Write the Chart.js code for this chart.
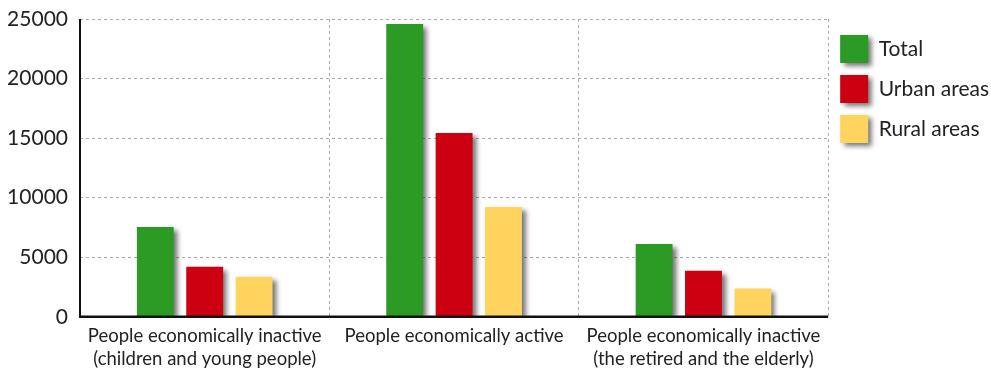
<!DOCTYPE html>
<html>
<head>
<meta charset="utf-8">
<script src="https://cdn.jsdelivr.net/npm/chart.js@4/dist/chart.umd.min.js"></script>
<style>
html,body{margin:0;padding:0;background:#fff;}
#wrap{width:991px;height:370px;position:relative;}
</style>
</head>
<body>
<div id="wrap"><canvas id="c" width="991" height="370"></canvas></div>
<script>
const categories = [
  ["People economically inactive", "(children and young people)"],
  ["People economically active"],
  ["People economically inactive", "(the retired and the elderly)"]
];
const seriesNames = ["Total", "Urban areas", "Rural areas"];
const totalValues = [7550, 24580, 6120];
const urbanValues = [4200, 15430, 3860];
const ruralValues = [3360, 9230, 2380];
const yTicks = [0, 5000, 10000, 15000, 20000, 25000];

const colors = ["#2c9b26", "#cd0012", "#ffd45e"];
const FONT = "Lato, 'Open Sans', sans-serif";

function setShadow(ctx) {
  ctx.shadowColor = 'rgba(0,0,0,0.55)';
  ctx.shadowBlur = 5;
  ctx.shadowOffsetX = 4;
  ctx.shadowOffsetY = 3;
}

const shadowPlugin = {
  id: 'shadows',
  beforeLayout(chart) {
    const lg = chart.legend;
    if (lg && !lg._fitPatched) {
      lg._fitPatched = true;
      const origFit = lg.fit.bind(lg);
      lg.fit = function () {
        origFit();
        this.width = Math.max(0, this.width - 8);
      };
    }
  },
  beforeDatasetsDraw(chart) {
    chart.ctx.save();
    setShadow(chart.ctx);
  },
  afterDatasetsDraw(chart) {
    chart.ctx.restore();
    const ctx = chart.ctx, a = chart.chartArea;
    ctx.save();
    ctx.strokeStyle = '#111';
    ctx.setLineDash([]);
    ctx.lineWidth = 2;
    ctx.beginPath();
    ctx.moveTo(a.left, a.top);
    ctx.lineTo(a.left, a.bottom);
    ctx.stroke();
    ctx.lineWidth = 2.5;
    ctx.beginPath();
    ctx.moveTo(a.left - 1, a.bottom);
    ctx.lineTo(a.right, a.bottom);
    ctx.stroke();
    ctx.restore();
  },
  afterLayout(chart) {
    const lg = chart.legend;
    if (lg && !lg._shadowPatched) {
      lg._shadowPatched = true;
      const orig = lg.draw.bind(lg);
      lg.draw = function () {
        const ctx = chart.ctx;
        const origFill = ctx.fill;
        ctx.save();
        ctx.translate(0, 4);
        ctx.fill = function (...a) {
          ctx.save();
          setShadow(ctx);
          origFill.apply(ctx, a);
          ctx.restore();
        };
        try { orig(); } finally { ctx.fill = origFill; ctx.restore(); }
      };
    }
  }
};

const seriesValues = [totalValues, urbanValues, ruralValues];

new Chart(document.getElementById('c'), {
  type: 'bar',
  data: {
    labels: categories,
    datasets: seriesNames.map((n, i) => ({
      label: n,
      data: seriesValues[i],
      backgroundColor: colors[i],
      borderWidth: 0,
      categoryPercentage: 0.594,
      barPercentage: 0.747
    }))
  },
  options: {
    responsive: false,
    animation: false,
    devicePixelRatio: 1,
    layout: { padding: { left: 8, right: 0, top: 19, bottom: -8 } },
    plugins: {
      tooltip: { enabled: false },
      legend: {
        position: 'right',
        align: 'start',
        fullSize: false,
        labels: {
          boxWidth: 28,
          boxHeight: 28,
          padding: 12,
          color: '#222',
          font: { family: FONT, size: 21 }
        }
      }
    },
    scales: {
      x: {
        grid: {
          display: true,
          offset: true,
          drawTicks: false,
          color: '#aaa',
          lineWidth: 1
        },
        border: { display: false, dash: [3, 3] },
        ticks: {
          color: '#222',
          padding: 8,
          maxRotation: 0,
          autoSkip: false,
          font: { family: FONT, size: 18.5, lineHeight: 1.22 }
        },
        afterFit(scale) { scale.paddingLeft = 0; scale.paddingRight = 0; }
      },
      y: {
        min: 0,
        max: 25000,
        afterBuildTicks(scale) { scale.ticks = yTicks.map(v => ({ value: v })); },
        afterFit(scale) { scale.width = 72; scale.paddingTop = 0; scale.paddingBottom = 0; },
        grid: {
          drawTicks: false,
          color: '#aaa',
          lineWidth: 1
        },
        border: { display: false, dash: [3, 3] },
        ticks: {
          color: '#222',
          padding: 12,
          font: { family: FONT, size: 21 },
          callback: (v) => String(v)
        }
      }
    }
  },
  plugins: [shadowPlugin]
});
</script>
</body>
</html>
